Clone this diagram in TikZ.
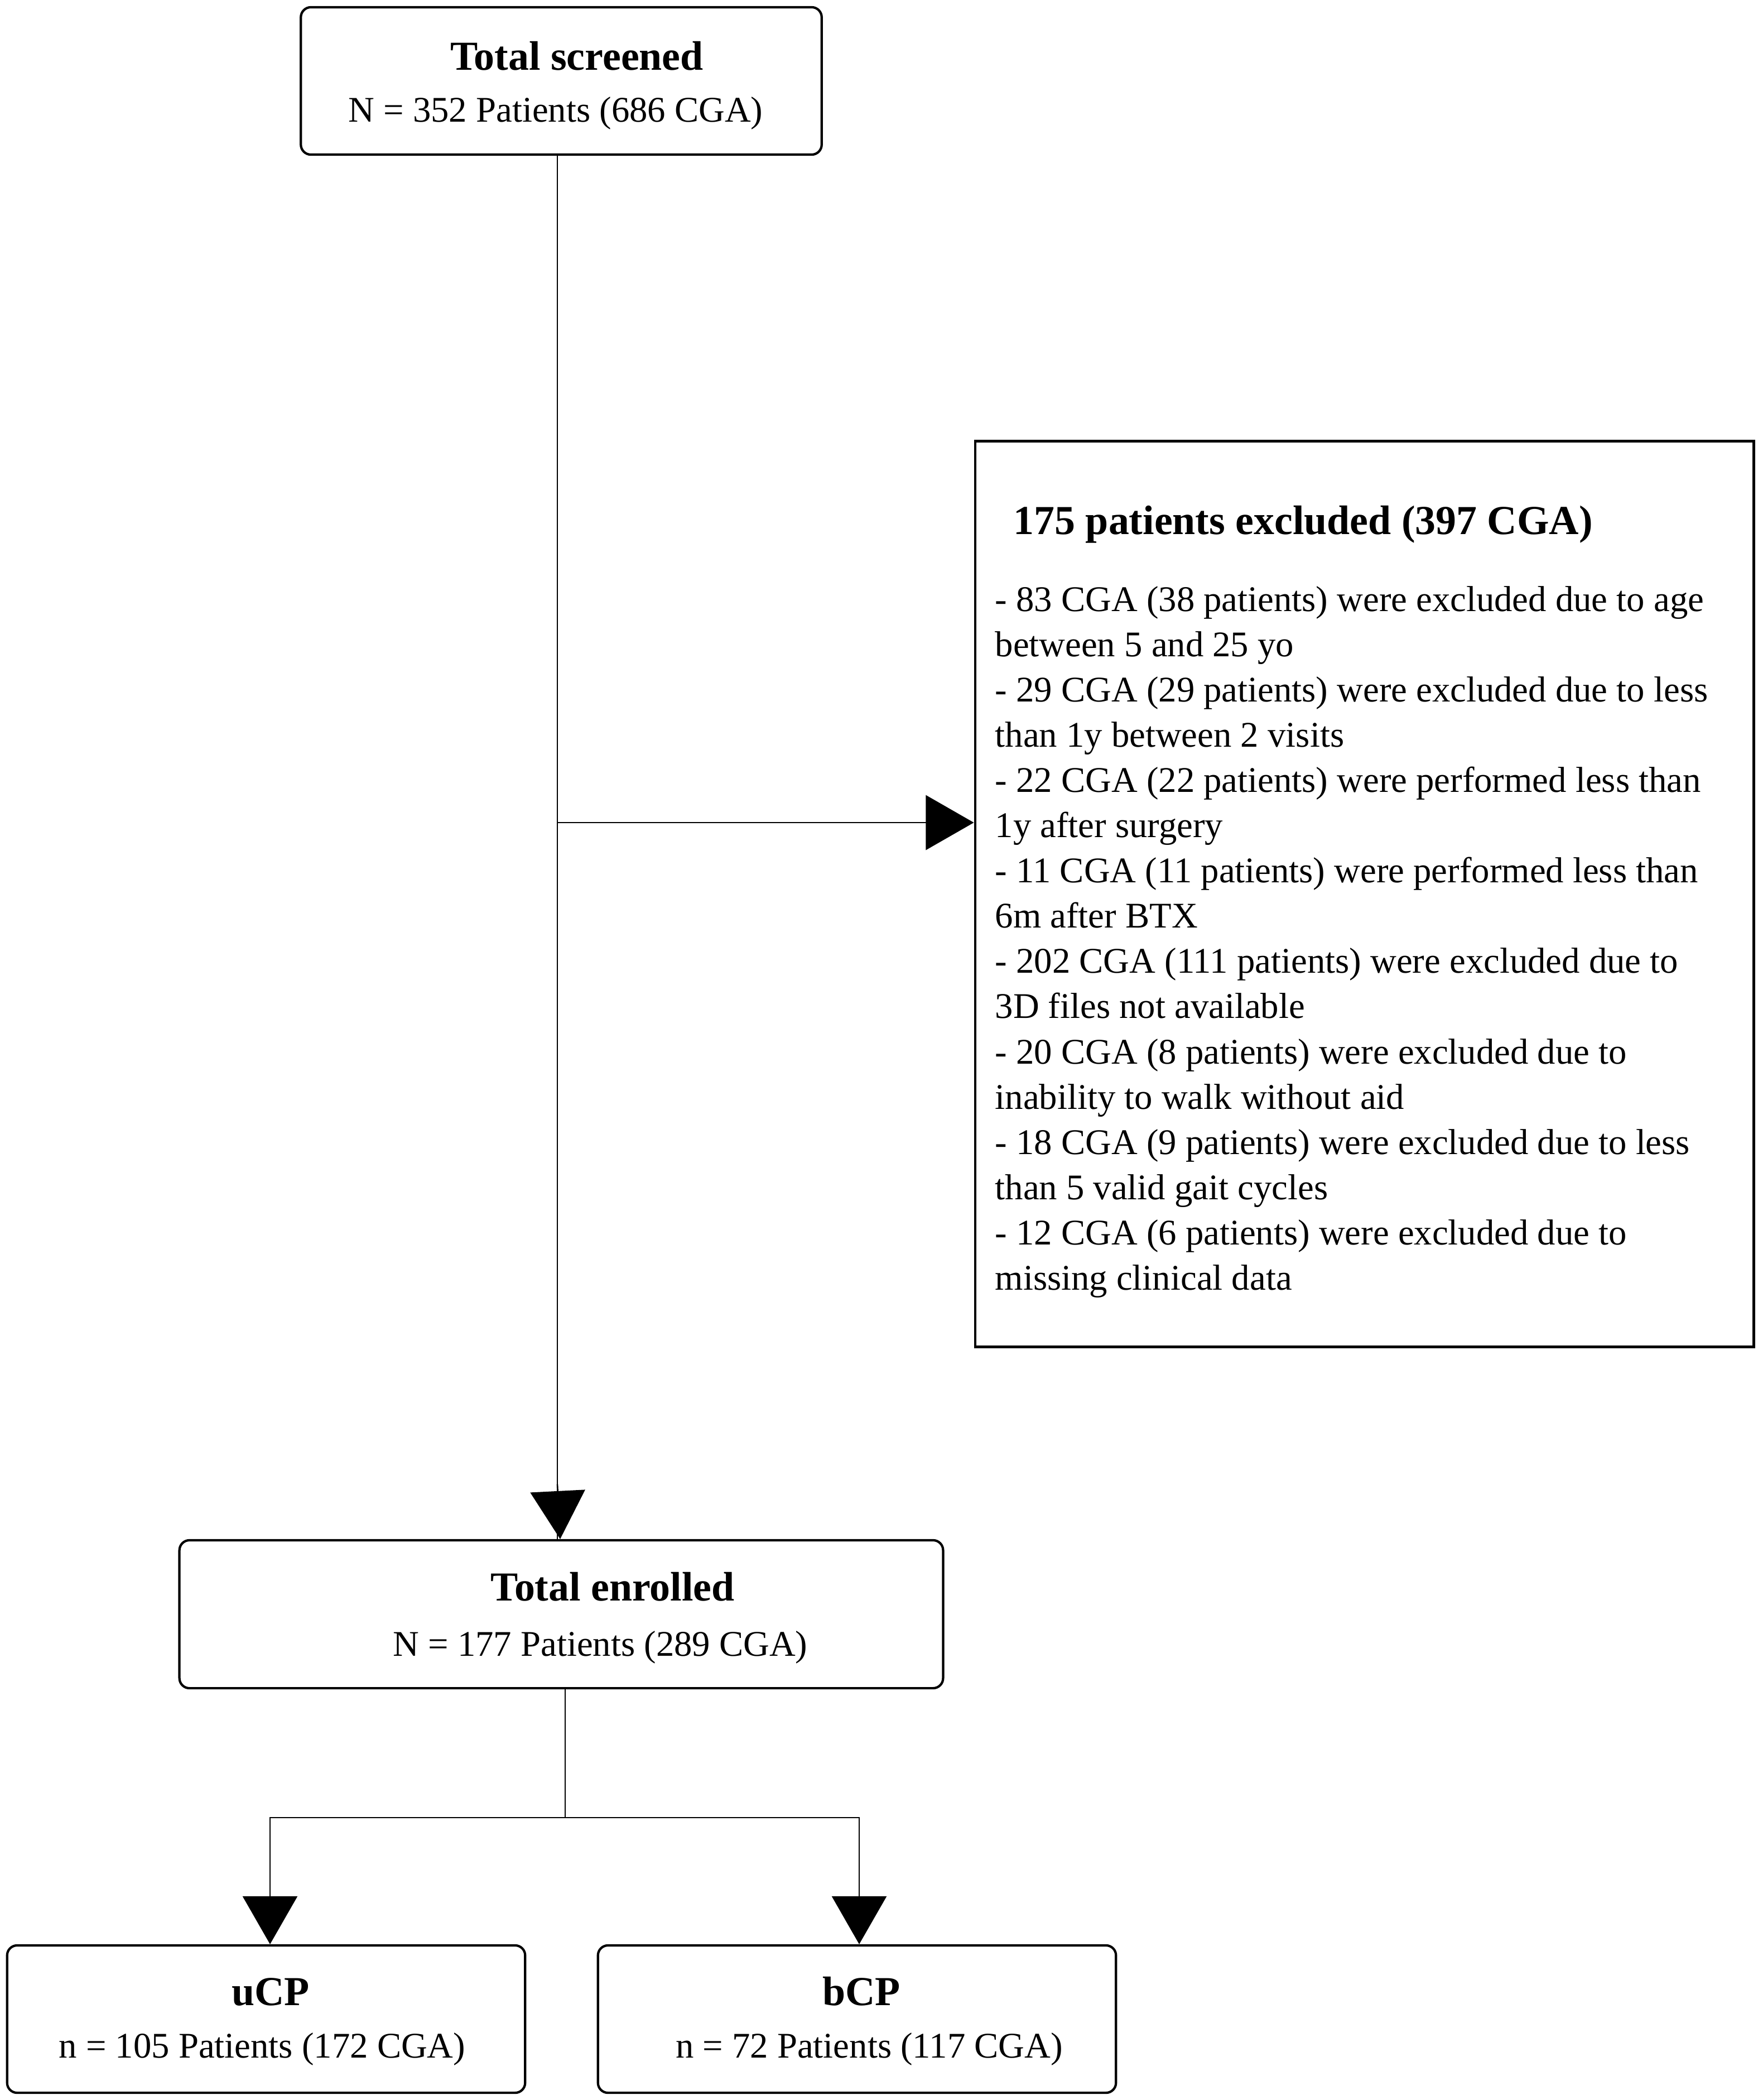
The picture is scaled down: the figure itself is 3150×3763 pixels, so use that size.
\documentclass[tikz,border=0pt]{standalone}
\usepackage{fontspec}
\setmainfont{Liberation Serif}
\usetikzlibrary{arrows.meta,calc}
\begin{document}
\begin{tikzpicture}[x=0.01cm,y=-0.01cm,
  rbox/.style={draw,line width=1.2pt,rounded corners=0.18cm,inner sep=0},
  sbox/.style={draw,line width=1.2pt,inner sep=0},
  ttl/.style={inner sep=0,anchor=base,font=\fontsize{21}{25}\selectfont\bfseries},
  txt/.style={inner sep=0,anchor=base,font=\fontsize{18.4}{22.8}\selectfont},
  itm/.style={inner sep=0,anchor=base west,font=\fontsize{18.4}{22.8}\selectfont},
  conn/.style={line width=0.75pt},
  arr/.style={line width=0.75pt,-{Triangle[length=0.86cm,width=0.98cm]}}]
\useasboundingbox (0,0) rectangle (3150,3763);
% boxes
\node[rbox,minimum width=9.33cm,minimum height=2.64cm] (screened) at (1006,145) {};
\node[sbox,minimum width=13.95cm,minimum height=16.22cm] (excl) at (2445.5,1602) {};
\node[rbox,minimum width=13.68cm,minimum height=2.65cm] (enrolled) at (1006,2892.5) {};
\node[rbox,minimum width=9.28cm,minimum height=2.64cm] (ucp) at (477,3618) {};
\node[rbox,minimum width=9.28cm,minimum height=2.64cm] (bcp) at (1536,3618) {};
% texts
\node[ttl] (t1) at (1034,125) {Total screened};
\node[txt] (t2) at (996,218) {N = 352 Patients (686 CGA)};
\node[ttl,anchor=base west] (ex) at (1816,957) {175 patients excluded (397 CGA)};
\foreach \t [count=\i] in {
 - 83 CGA (38 patients) were excluded due to age,
 between 5 and 25 yo,
 - 29 CGA (29 patients) were excluded due to less,
 than 1y between 2 visits,
 - 22 CGA (22 patients) were performed less than,
 1y after surgery,
 - 11 CGA (11 patients) were performed less than,
 6m after BTX,
 - 202 CGA (111 patients) were excluded due to,
 3D files not available,
 - 20 CGA (8 patients) were excluded due to,
 inability to walk without aid,
 - 18 CGA (9 patients) were excluded due to less,
 than 5 valid gait cycles,
 - 12 CGA (6 patients) were excluded due to,
 missing clinical data}
 {\node[itm] (l\i) at (1783,{1095+(\i-1)*81.1}) {\t};}
\node[ttl] (t3) at (1098,2868) {Total enrolled};
\node[txt] (t4) at (1076,2967) {N = 177 Patients (289 CGA)};
\node[ttl] (t5) at (485,3593) {uCP};
\node[txt] (t6) at (470,3687) {n = 105 Patients (172 CGA)};
\node[ttl] (t7) at (1544,3593) {bCP};
\node[txt] (t8) at (1558,3687) {n = 72 Patients (117 CGA)};
% connectors
\coordinate (s1) at ($(screened.south)+(-7,0)$);
\coordinate (e1) at ($(enrolled.north)+(-2,0)$);
\coordinate (br) at (999,1474);
\coordinate (e2) at ($(enrolled.south)+(7,0)$);
\coordinate (jn) at (1013,3257);
\coordinate (u1) at ($(ucp.north)+(7,0)$);
\coordinate (b1) at ($(bcp.north)+(4,0)$);
\draw[conn] (s1) -- (s1 |- e1);
\draw[arr] (s1 |- 2660,2660) -- (e1);
\draw[arr] (br) -- (br -| excl.west);
\draw[conn] (e2) -- (jn);
\draw[arr] (jn) -| (u1);
\draw[arr] (jn) -| (b1);
\end{tikzpicture}
\end{document}
